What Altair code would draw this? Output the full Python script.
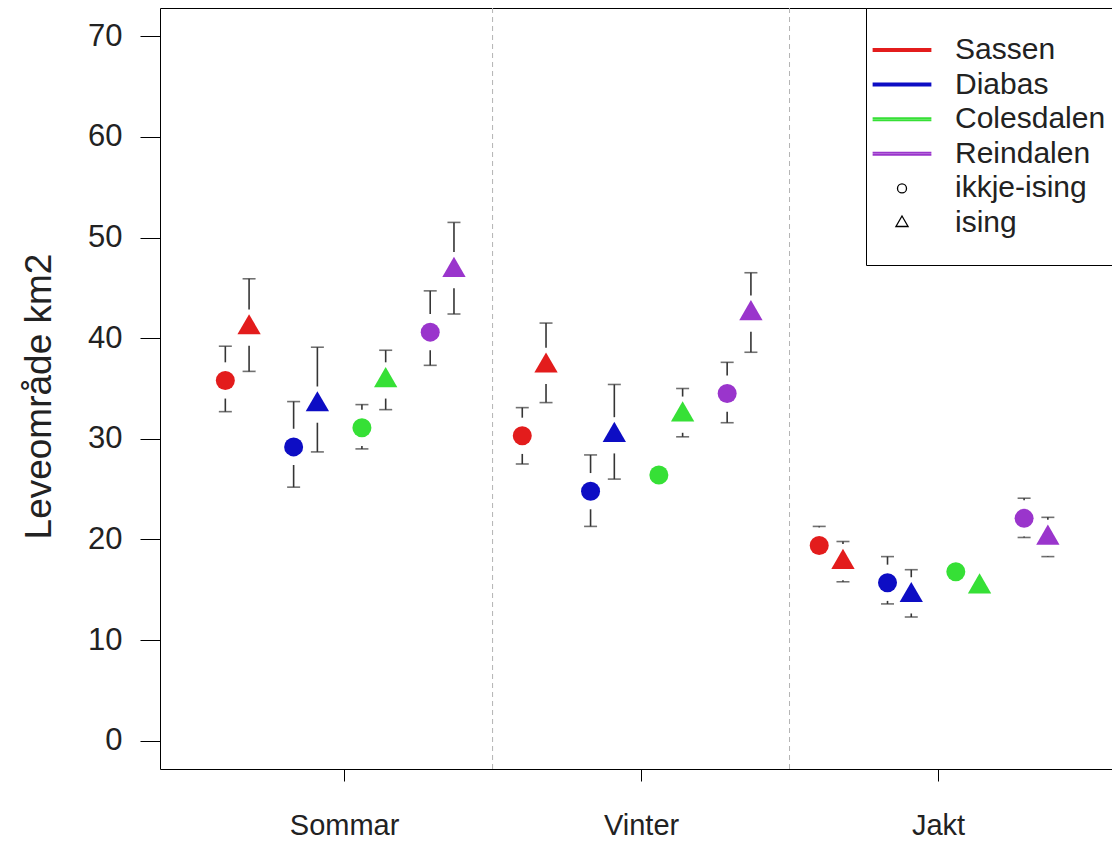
import altair as alt
import pandas as pd
import numpy as np

seasons = ["Sommar", "Vinter", "Jakt"]
sites = ["Sassen", "Diabas", "Colesdalen", "Reindalen"]
types = ["ikkje-ising", "ising"]
site_colors = ["#e31c1c", "#0d0dc4", "#36e036", "#9a35cc"]

# values, one list per season in site order
mean_ikkje = {"Sommar": [35.8, 29.2, 31.1, 40.6], "Vinter": [30.3, 24.8, 26.4, 34.5], "Jakt": [19.4, 15.7, 16.8, 22.1]}
mean_ising = {"Sommar": [41.05, 33.4, 35.8, 46.75], "Vinter": [37.25, 30.35, 32.4, 42.45], "Jakt": [17.75, 14.45, 15.3, 20.15]}
upper_ikkje = {"Sommar": [39.2, 33.7, 33.4, 44.7], "Vinter": [33.1, 28.4, None, 37.6], "Jakt": [21.3, 18.3, None, 24.1]}
lower_ikkje = {"Sommar": [32.7, 25.2, 29.0, 37.3], "Vinter": [27.5, 21.3, None, 31.6], "Jakt": [None, 13.6, None, 20.2]}
upper_ising = {"Sommar": [45.9, 39.1, 38.8, 51.5], "Vinter": [41.5, 35.4, 35.0, 46.5], "Jakt": [19.8, 17.0, None, 22.2]}
lower_ising = {"Sommar": [36.7, 28.7, 32.9, 42.4], "Vinter": [33.6, 26.0, 30.2, 38.6], "Jakt": [15.8, 12.3, None, 18.3]}

separators = [1.5, 2.5]
y_ticks = [0, 10, 20, 30, 40, 50, 60, 70]

# dodge layout within each season group
site_offset = [-0.40, -0.17, 0.06, 0.29]
type_offset = [0.0, 0.08]
GAP = 1.8  # gap between marker and error bar, in data units

means = {types[0]: mean_ikkje, types[1]: mean_ising}
uppers = {types[0]: upper_ikkje, types[1]: upper_ising}
lowers = {types[0]: lower_ikkje, types[1]: lower_ising}

pts, bars, caps = [], [], []
for si, season in enumerate(seasons):
    for j, site in enumerate(sites):
        for ti, t in enumerate(types):
            x = si + 1 + site_offset[j] + type_offset[ti]
            m = means[t][season][j]
            pts.append({"x": x, "y": m, "site": site, "type": t})
            up = uppers[t][season][j]
            lo = lowers[t][season][j]
            if up is not None:
                bars.append({"x": x, "y": min(m + GAP, up), "y2": up})
                caps.append({"x": x, "y": up})
            if lo is not None:
                bars.append({"x": x, "y": max(m - GAP, lo), "y2": lo})
                caps.append({"x": x, "y": lo})

pts_df = pd.DataFrame(pts)
bars_df = pd.DataFrame(bars)
caps_df = pd.DataFrame(caps)
sep_df = pd.DataFrame({"x": separators})
keys = sites + types
legend_df = pd.DataFrame({"key": keys, "x": [np.nan] * len(keys), "y": [np.nan] * len(keys)})

FONT = "Liberation Sans"
TXT = "#222222"
ERR = "#353535"
TRI = "M0,-1.555L1.347,0.778L-1.347,0.778Z"
LINE = "M-6.53,-0.3L6.53,-0.3M-6.53,0L6.53,0M-6.53,0.3L6.53,0.3"

xscale = alt.Scale(domain=[0.38, 3.586], nice=False, zero=False)
yscale = alt.Scale(domain=[-2.8, 72.8], nice=False, zero=False)

xaxis = alt.Axis(values=[1, 2, 3], labelExpr=f"{seasons}[datum.value - 1]", title=None,
                 grid=False, domain=False, tickSize=12, tickColor="black",
                 labelFont=FONT, labelFontSize=29, labelColor=TXT, labelPadding=30,
                 labelFlush=False)
yaxis = alt.Axis(values=y_ticks, title="Leveområde km2", grid=False, domain=False,
                 tickSize=20, tickColor="black", labelFont=FONT, labelFontSize=31,
                 labelColor=TXT, labelPadding=18, titleFont=FONT, titleFontSize=37,
                 titleColor=TXT, titleFontWeight="normal", titleAngle=270,
                 titleX=-110, titleY=388, titleAlign="center", titleBaseline="alphabetic")

X = alt.X("x:Q", scale=xscale, axis=xaxis)
Y = alt.Y("y:Q", scale=yscale, axis=yaxis)

legend = alt.Legend(
    title=None, orient="none", legendX=706, legendY=0,
    strokeColor="black", fillColor="white", padding=27, rowPadding=4.6,
    symbolSize=81, symbolStrokeWidth=1.3, symbolOffset=-6, labelOffset=38,
    labelFont=FONT, labelFontSize=30, labelColor=TXT, labelLimit=400,
)

# legend-only layer (no drawable rows: x/y are empty)
legend_layer = alt.Chart(legend_df).mark_point(filled=False, opacity=1).encode(
    x=X, y=Y,
    color=alt.Color("key:N", scale=alt.Scale(domain=keys, range=site_colors + ["black", "black"]), legend=legend),
    shape=alt.Shape("key:N", scale=alt.Scale(domain=keys, range=[LINE] * 4 + ["circle", TRI]), legend=legend),
)

sep_layer = alt.Chart(sep_df).mark_rule(color="#b4b4b4", strokeDash=[5, 4], strokeWidth=1).encode(x=X)

bar_layer = alt.Chart(bars_df).mark_rule(color=ERR, strokeWidth=1.6).encode(x=X, y=Y, y2="y2:Q")
cap_layer = alt.Chart(caps_df).mark_tick(color=ERR, orient="horizontal", size=13, thickness=1.6).encode(x=X, y=Y)

point_layer = alt.Chart(pts_df).mark_point(filled=True, opacity=1, strokeWidth=0).encode(
    x=X, y=Y,
    fill=alt.Fill("site:N", scale=alt.Scale(domain=sites, range=site_colors), legend=None),
    shape=alt.Shape("type:N", scale=alt.Scale(domain=types, range=["circle", TRI]), legend=None),
    size=alt.Size("type:N", scale=alt.Scale(domain=types, range=[361, 300]), legend=None),
)

chart = alt.layer(legend_layer, sep_layer, bar_layer, cap_layer, point_layer).resolve_scale(
    color="independent", shape="independent"
).properties(
    width=952, height=761,
    autosize=alt.AutoSizeParams(type="none"),
    padding={"left": 160, "top": 8, "right": 0, "bottom": 74},
    background="white",
).configure_view(stroke="black", strokeWidth=1)

chart.save("out.html", embed_options={"renderer": "svg", "actions": False})
